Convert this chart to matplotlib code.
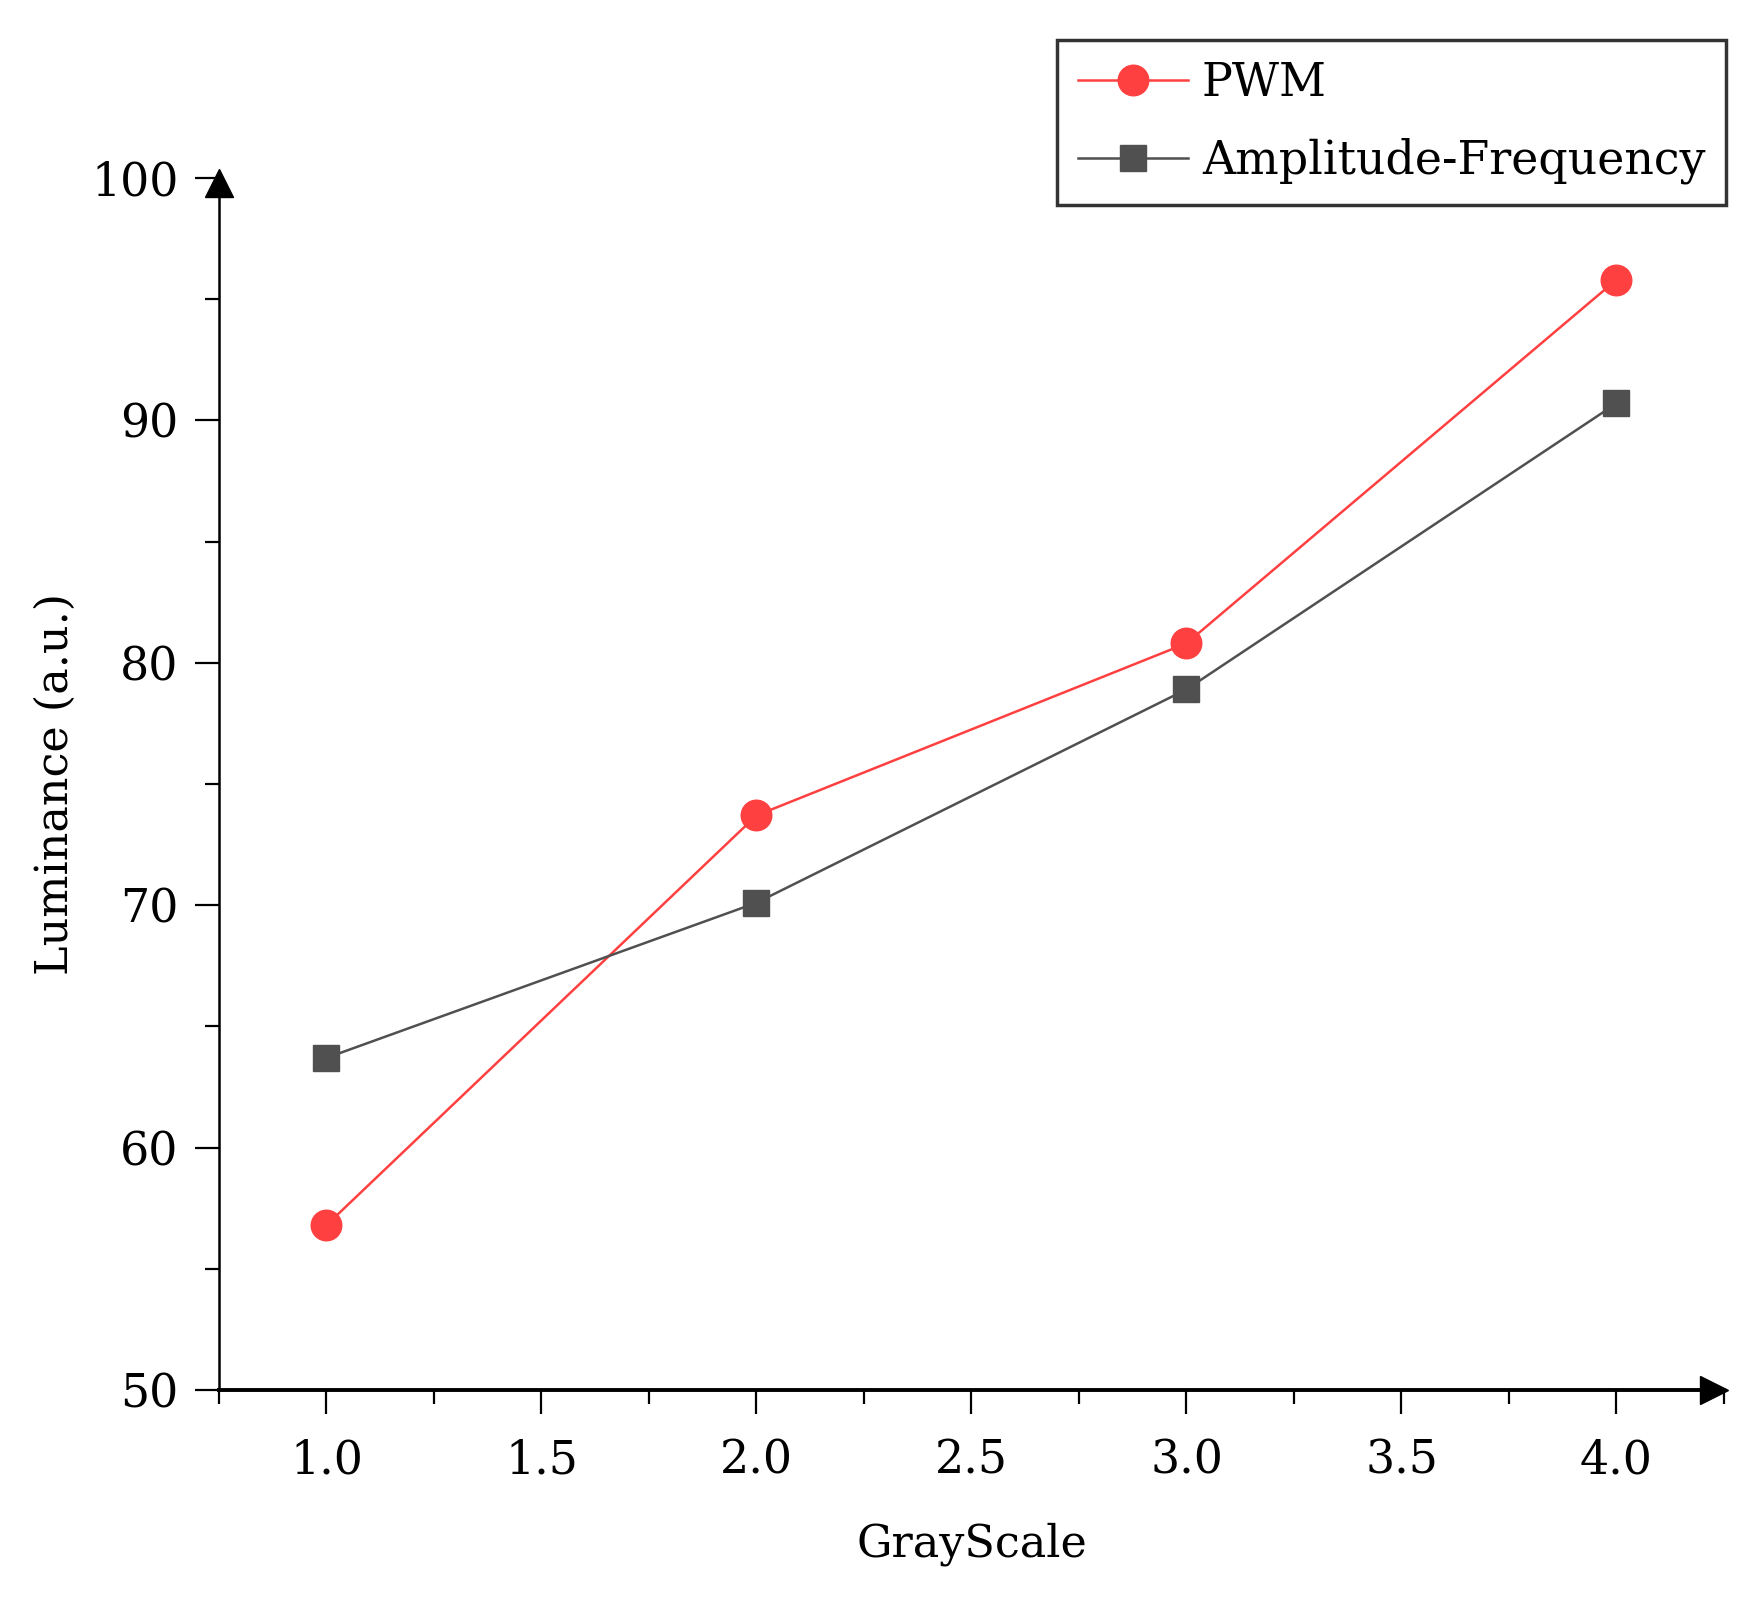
import matplotlib
matplotlib.use("Agg")
import matplotlib.pyplot as plt
from matplotlib.ticker import MultipleLocator
from matplotlib.transforms import offset_copy

# values
grayscale = [1.0, 2.0, 3.0, 4.0]
pwm = [56.8, 73.7, 80.8, 95.8]
amp_freq = [63.7, 70.1, 78.9, 90.7]

plt.rcParams['font.family'] = ['DejaVu Serif', 'Liberation Serif']

fig = plt.figure(figsize=(17.46, 15.97), dpi=100)
ax = fig.add_axes([0.1254, 0.1296, 0.862, 0.759])

ax.plot(grayscale, pwm, color='#ff4040', lw=1.8, marker='o',
        markersize=22, label='PWM', clip_on=False, zorder=3)
ax.plot(grayscale, amp_freq, color='#505050', lw=1.8, marker='s',
        markersize=19, label='Amplitude-Frequency', clip_on=False, zorder=3)

ax.set_xlim(0.75, 4.25)
ax.set_ylim(50, 100)
ax.xaxis.set_major_locator(MultipleLocator(0.5))
ax.xaxis.set_minor_locator(MultipleLocator(0.25))
ax.yaxis.set_major_locator(MultipleLocator(10))
ax.yaxis.set_minor_locator(MultipleLocator(5))

for side in ['top', 'right']:
    ax.spines[side].set_visible(False)
ax.spines['left'].set_linewidth(1.8)
ax.spines['bottom'].set_linewidth(2.8)

ax.tick_params(axis='both', which='major', direction='out', width=1.6,
               labelsize=33)
ax.tick_params(axis='x', which='major', length=17, pad=18)
ax.tick_params(axis='x', which='minor', length=10, width=1.6)
ax.tick_params(axis='y', which='major', length=17, pad=12)
ax.tick_params(axis='y', which='minor', length=10, width=1.6)

# arrow heads at the axis ends, tips on the axis ends
xarrow = offset_copy(ax.transAxes, fig=fig, x=-7, y=0, units='points')
yarrow = offset_copy(ax.transAxes, fig=fig, x=0, y=-4, units='points')
ax.plot(1, 0, '>k', markersize=20, transform=xarrow, clip_on=False)
ax.plot(0, 1, '^k', markersize=20, transform=yarrow, clip_on=False)

ax.set_xlabel('GrayScale', fontsize=32, labelpad=28)
ax.set_ylabel('Luminance (a.u.)', fontsize=32, labelpad=10)

leg = fig.legend(loc='upper right', bbox_to_anchor=(0.9885, 0.975),
                 fontsize=33, frameon=True, fancybox=False, handlelength=2.4,
                 handletextpad=0.3, borderpad=0.45, labelspacing=0.7,
                 borderaxespad=0)
leg.get_frame().set_edgecolor('black')
leg.get_frame().set_linewidth(2.5)

fig.savefig('out.png', dpi=100)
